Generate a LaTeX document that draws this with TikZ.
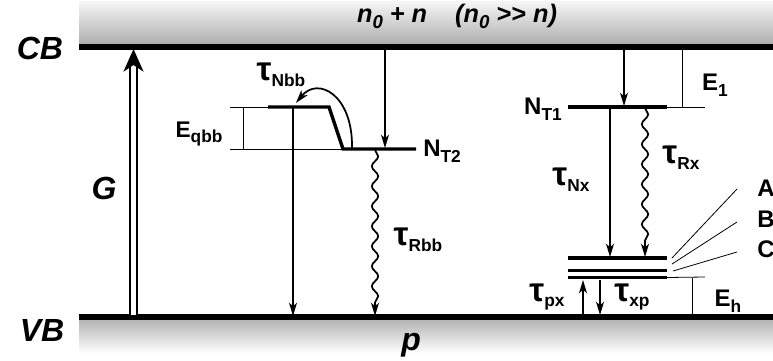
\documentclass[tikz,border=0pt]{standalone}
\usepackage{fontspec}
\setmainfont{Liberation Sans}
\usetikzlibrary{arrows.meta, positioning, calc, decorations.pathmorphing}
\newcommand{\lsub}[1]{\raisebox{-0.45ex}{\fontsize{13}{13}\selectfont #1}}
\newcommand{\isub}[1]{\raisebox{-0.45ex}{\fontsize{14}{14}\selectfont #1}}
\newcommand{\ttau}{{\fontsize{25}{25}\selectfont τ}}
\tikzset{
  bandline/.style={line width=3.8pt},
  lvl/.style={line width=2.5pt, line join=miter},
  trans/.style={line width=1.3pt, -{Stealth[length=10pt, width=6pt, inset=2.8pt]}},
  wavy/.style={trans, decorate, decoration={snake, amplitude=2.4pt, segment length=15pt, post length=8pt}},
  guide/.style={line width=0.6pt},
  lbl/.style={font=\bfseries\fontsize{18}{18}\selectfont, inner sep=0pt},
  tau/.style={font=\bfseries\fontsize{18}{18}\selectfont, inner sep=0pt},
  big/.style={font=\bfseries\itshape\fontsize{24}{24}\selectfont, inner sep=0pt},
}
\begin{document}
\begin{tikzpicture}[x=0.75pt, y=-0.75pt]
  \useasboundingbox (0,0) rectangle (773,360);
  % bands
  \shade[top color=gray!8, bottom color=gray!65] (79,2) rectangle (773,45);
  \shade[top color=gray!60, bottom color=white] (79,319) rectangle (773,353);
  \coordinate (cbL) at (79,47);  \coordinate (cbR) at (773,47);
  \coordinate (vbL) at (79,317); \coordinate (vbR) at (773,317);
  \draw[bandline] (cbL) -- (cbR);
  \draw[bandline] (vbL) -- (vbR);
  \node[big] (cb) at (40,48) {CB};
  \node[big] (vb) at (42,330) {VB};
  \node[big, anchor=base west] (p) at (401,350) {p};
  \node[font=\bfseries\itshape\fontsize{19}{19}\selectfont, inner sep=0pt] (conc) at (457,16)
    {n\isub{0} + n\hspace{1.1em}(n\isub{0} {>}{>} n)};
  % generation
  \coordinate (g0) at (133.5,315); \coordinate (g1) at (133.5,49);
  \draw[line width=1.6pt, double distance=3.6pt, -{Stealth[length=17pt, width=15pt, inset=5pt]}] (g0) -- (g1);
  \node[big] (G) at (104,188) {G};
  % bb trap (left)
  \coordinate (bbA) at (268,107); \coordinate (bbB) at (329,107);
  \coordinate (bbC) at (343,149); \coordinate (bbD) at (416,149);
  \draw[lvl] (bbA) -- (bbB) -- (bbC) -- (bbD);
  \node[lbl, anchor=west] (nt2) at (423,151) {N\lsub{T2}};
  \coordinate (eq1) at (230,107); \coordinate (eq2) at (230,149);
  \draw[guide] (eq1) -- (bbA);
  \draw[guide] (eq2) -- (bbC);
  \draw[guide] (243,107) -- (243,149);
  \node[font=\bfseries\fontsize{17}{17}\selectfont, inner sep=0pt] (eqbb) at (199,134) {E\lsub{qbb}};
  \coordinate (bbV) at (293,107); \coordinate (bbVe) at (293,316);
  \draw[trans] (bbV) -- (bbVe);
  \coordinate (cbN2) at (385,49); \coordinate (nt2top) at (385,148);
  \draw[trans] (cbN2) -- (nt2top);
  \coordinate (nbb0) at (352,148); \coordinate (nbb1) at (296,103);
  \draw[trans] (nbb0) .. controls (353,95) and (318,76) .. (nbb1);
  \node[tau] (tnbb) at (281,75) {\ttau\lsub{Nbb}};
  \coordinate (rbb0) at (375,150); \coordinate (rbb1) at (375,316);
  \draw[wavy] (rbb0) -- (rbb1);
  \node[tau] (trbb) at (418,240) {\ttau\lsub{Rbb}};
  % T1 trap (right)
  \coordinate (t1L) at (568,107); \coordinate (t1R) at (667,107);
  \draw[lvl] (t1L) -- (t1R);
  \node[lbl] (nt1) at (543,109) {N\lsub{T1}};
  \draw[guide] (t1R) -- (705,107);
  \draw[guide] (682,49) -- (682,107);
  \node[lbl] (e1) at (715,85) {E\lsub{1}};
  \coordinate (cbN1) at (624,49); \coordinate (nt1top) at (624,106);
  \draw[trans] (cbN1) -- (nt1top);
  % x levels A, B, C
  \foreach \name/\y in {lA/258, lB/270.5, lC/277.5}{
    \coordinate (\name L) at (568,\y); \coordinate (\name R) at (667,\y);
    \draw[line width=2.3pt] (\name L) -- (\name R);
  }
  \coordinate (nx0) at (610,108); \coordinate (nx1) at (610,257);
  \draw[trans] (nx0) -- (nx1);
  \node[tau] (tnx) at (571,180) {\ttau\lsub{Nx}};
  \coordinate (rx0) at (645,108); \coordinate (rx1) at (645,257);
  \draw[wavy] (rx0) -- (rx1);
  \node[tau] (trx) at (681,158) {\ttau\lsub{Rx}};
  \draw[guide] (lCR) -- (705,277);
  \draw[guide] (692,277.5) -- (692,317);
  \node[lbl] (eh) at (728,301) {E\lsub{h}};
  \coordinate (px0) at (583,315); \coordinate (px1) at (583,280);
  \draw[trans] (px0) -- (px1);
  \coordinate (xp0) at (600,280); \coordinate (xp1) at (600,315);
  \draw[trans] (xp0) -- (xp1);
  \node[tau] (tpx) at (547,297) {\ttau\lsub{px}};
  \node[tau] (txp) at (632,297) {\ttau\lsub{xp}};
  % leaders to A, B, C
  \node[lbl, anchor=west] (A) at (757,188) {A};
  \node[lbl, anchor=west] (B) at (757,219) {B};
  \node[lbl, anchor=west] (C) at (757,249) {C};
  \draw[guide] (672,258) -- (737,189);
  \draw[guide] (672,264) -- (737,222);
  \draw[guide] (673,271) -- (737,252);
\end{tikzpicture}
\end{document}
